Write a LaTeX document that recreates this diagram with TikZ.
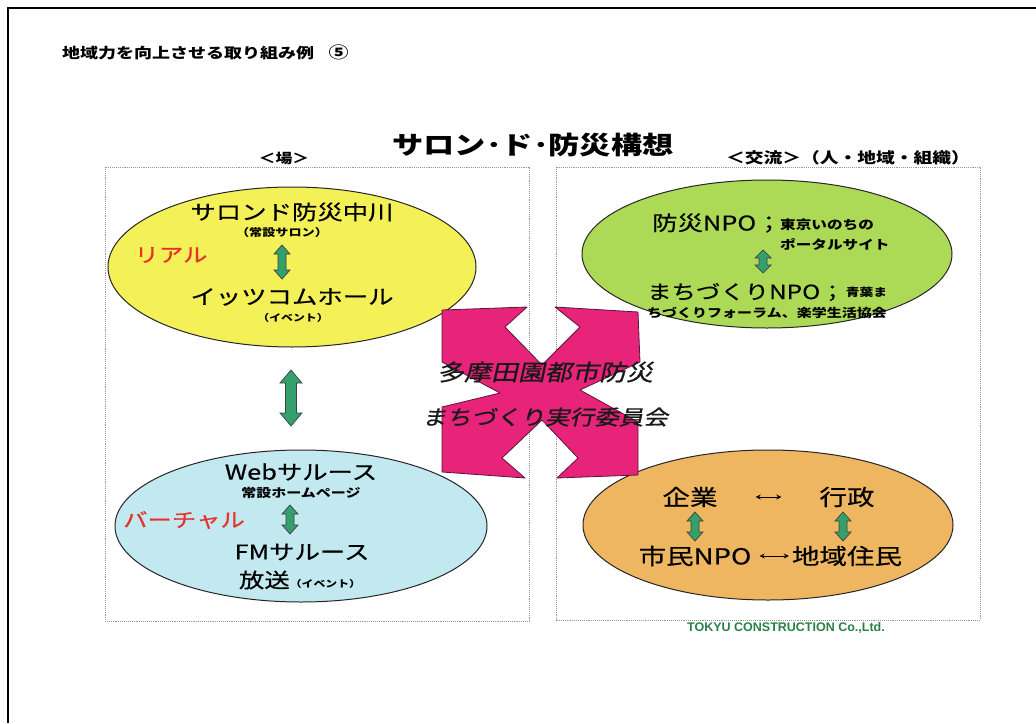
\documentclass[tikz,border=0pt]{standalone}
\usepackage{fontspec}
\setmainfont{Noto Sans CJK JP}[FakeStretch=1.25, UprightFeatures={FakeBold=0.5}]
\newfontfamily\slantjp{Noto Sans CJK JP}[FakeSlant=0.22, FakeStretch=1.2, FakeBold=0.8]
\newfontfamily\tokyufont{Liberation Sans}
\usetikzlibrary{arrows.meta}
\definecolor{boxgray}{RGB}{150,150,150}
\definecolor{yel}{RGB}{244,240,88}
\definecolor{cyanl}{RGB}{194,232,240}
\definecolor{lgreen}{RGB}{172,218,86}
\definecolor{orng}{RGB}{238,182,96}
\definecolor{pinkx}{RGB}{232,36,122}
\definecolor{pinkline}{RGB}{90,20,60}
\definecolor{arrgreen}{RGB}{52,160,108}
\definecolor{realred}{RGB}{230,50,40}
\definecolor{tokyugreen}{RGB}{40,130,70}
\newcommand{\fatarrow}[7]{%
  \draw[fat] (#2,#3) coordinate (#1-t) -- ({#2+#5},{#3+#7}) -- ({#2+#6},{#3+#7}) -- ({#2+#6},{#4-#7}) -- ({#2+#5},{#4-#7}) -- (#2,#4) coordinate (#1-b) -- ({#2-#5},{#4-#7}) -- ({#2-#6},{#4-#7}) -- ({#2-#6},{#3+#7}) -- ({#2-#5},{#3+#7}) -- cycle;}
\newcommand{\fsz}[1]{\fontsize{#1}{#1}\selectfont}
\tikzset{
  boxline/.style={draw=boxgray, densely dotted, line width=0.9pt},
  ell/.style={draw=black!85, line width=1pt},
  lab/.style={inner sep=0pt, text=black},
  bigl/.style={lab, font=\fsz{20.3}},
  bigr/.style={lab, font=\fsz{22}},
  smallt/.style={lab, font=\bfseries\fsz{12}},
  redt/.style={lab, text=realred, font=\fsz{19.5}},
  pinkt/.style={lab, text=black!90},
  fat/.style={fill=arrgreen, draw=black!75, line width=0.7pt},
  thinarrow/.style={arrows={Stealth[length=5pt,width=5pt]-Stealth[length=5pt,width=5pt]}, line width=0.8pt},
}
\begin{document}
\begin{tikzpicture}[x=1pt,y=-1pt]
\useasboundingbox (0,0) rectangle (1036,723);
\fill[white] (0,0) rectangle (1036,723);
% outer frame
\draw[line width=2.5pt] (8,723) -- (8,8) -- (1036,8);
% title
\node[lab, anchor=west, font=\bfseries\fsz{14.4}] (title) at (62,52) {地域力を向上させる取り組み例\hspace{1em}{\fsz{16}⑤}};
% header
\node[lab, font=\bfseries\fsz{25}] (head) at (533,145) {サロン･ド･防災構想};
\node[lab, font=\bfseries\fsz{13.5}] (ba) at (284,158) {＜場＞};
\node[lab, font=\bfseries\fsz{15}] (koryu) at (848,158) {＜交流＞（人・地域・組織）};
% boxes
\draw[boxline] (105,167) rectangle (529,621);
\draw[boxline] (556,167) rectangle (980,620);
% ellipses
\path[ell, fill=yel] (292,267) ellipse [x radius=184, y radius=80];
\path[ell, fill=cyanl] (301,526) ellipse [x radius=186, y radius=76];
\path[ell, fill=lgreen] (767,254) ellipse [x radius=185, y radius=74];
\path[ell, fill=orng] (768,525) ellipse [x radius=185, y radius=75];
% pink X
\draw[fill=pinkx, draw=pinkline, line width=0.8pt, line join=round]
 (442,310) -- (527,307) -- (505,327) -- (542,365) -- (580,327) -- (555,307) -- (638,312)
 -- (640,362) -- (580,390) -- (638,422) -- (638,475) -- (557,478) -- (578,458) -- (542,420)
 -- (502,458) -- (525,478) -- (442,472) -- (442,407) -- (500,393) -- (442,362) -- cycle;
\node[pinkt, font=\slantjp\fsz{22.5}] (pk1) at (545,372) {多摩田園都市防災};
\node[pinkt, font=\slantjp\fsz{20.5}] (pk2) at (545,417) {まちづくり実行委員会};
% yellow ellipse
\node[bigl] (salon) at (292,212) {サロンド防災中川};
\node[lab, font=\bfseries\fsz{10.5}] (salonsub) at (282,233) {（常設サロン）};
\node[redt] (real) at (171,255) {リアル};
\node[bigl] (itscom) at (292,297) {イッツコムホール};
\node[lab, font=\bfseries\fsz{9.5}] (itssub) at (293,318) {（イベント）};
\fatarrow{a1}{282}{245}{279}{8}{4}{9}
% middle arrow
\fatarrow{a2}{291}{370}{426}{11}{5.5}{13}
% blue ellipse
\node[bigl] (web) at (301,472) {Webサルース};
\node[smallt] (websub) at (301,493) {常設ホームページ};
\node[redt] (virtual) at (184,520) {バーチャル};
\node[bigl] (fm) at (302,552) {FMサルース};
\node[bigl] (hoso) at (300,580) {放送{\bfseries\fsz{9.5}（イベント）}};
\fatarrow{a3}{290}{505}{534}{8}{4}{9}
% green ellipse
\node[bigl, anchor=west] (bousai) at (652,223) {防災NPO；};
\node[smallt, anchor=west, font=\bfseries\fsz{12.5}] (tokyo1) at (780,225) {東京いのちの};
\node[smallt, anchor=west, font=\bfseries\fsz{12.5}] (tokyo2) at (780,245) {ポータルサイト};
\fatarrow{a4}{763}{250}{273}{8}{4}{8}
\node[lab, anchor=west, font=\fsz{19.5}] (machi) at (647,292) {まちづくりNPO；};
\node[lab, anchor=west, font=\bfseries\fsz{11}] (aoba) at ([xshift=1pt]machi.east) {青葉ま};
\node[smallt, anchor=west] (aoba2) at (647,313) {ちづくりフォーラム、楽学生活協会};
% orange ellipse
\node[bigr] (kigyo) at (690,497) {企業};
\node[bigr] (gyosei) at (847,497) {行政};
\node[bigr] (shimin) at (695,556) {市民NPO};
\node[bigr] (jumin) at (847,556) {地域住民};
\draw[thinarrow, shorten >=38pt, shorten <=38pt] (kigyo.east) -- (gyosei.west);
\draw[thinarrow, shorten >=3pt, shorten <=8pt] (shimin.east) -- (jumin.west);
\fatarrow{a5}{695}{512}{541}{8}{4}{9}
\fatarrow{a6}{843}{512}{541}{8}{4}{9}
% credit
\node[lab, text=tokyugreen, font=\tokyufont\bfseries\fontsize{12.5}{14}\selectfont] (credit) at (786,628) {TOKYU CONSTRUCTION Co.,Ltd.};
\end{tikzpicture}
\end{document}
